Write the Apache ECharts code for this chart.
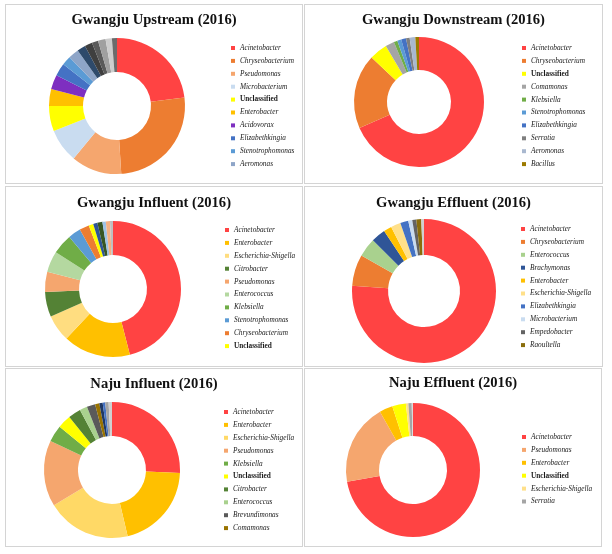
<!DOCTYPE html>
<html><head><meta charset="utf-8">
<script src="https://cdn.jsdelivr.net/npm/echarts@6/dist/echarts.min.js"></script>
<style>
body{margin:0;width:612px;height:554px;background:#fff;position:relative;overflow:hidden}
.p{position:absolute;border:1px solid #d4d4d4;box-sizing:border-box}
</style></head><body>
<div class="p" id="c1" style="left:5px;top:4px;width:298px;height:180px"></div>
<div class="p" id="c2" style="left:304px;top:4px;width:299px;height:180px"></div>
<div class="p" id="c3" style="left:5px;top:186px;width:298px;height:181px"></div>
<div class="p" id="c4" style="left:304px;top:186px;width:299px;height:181px"></div>
<div class="p" id="c5" style="left:5px;top:368px;width:298px;height:179px"></div>
<div class="p" id="c6" style="left:304px;top:368px;width:298px;height:179px"></div>
<script>
// ---- Data ----
const upstreamNames = ['Acinetobacter','Chryseobacterium','Pseudomonas','Microbacterium','Unclassified','Enterobacter','Acidovorax','Elizabethkingia','Stenotrophomonas','Aeromonas','Other 1','Other 2','Other 3','Other 4','Other 5','Other 6'];
const upstreamValues = [23, 26, 12, 8, 6, 4, 3.5, 3, 2.2, 2.5, 2.0, 1.8, 1.5, 1.8, 1.5, 1.2];
const upstreamLegend = upstreamNames.slice(0, 10);

const downstreamNames = ['Acinetobacter','Chryseobacterium','Unclassified','Comamonas','Klebsiella','Stenotrophomonas','Elizabethkingia','Serratia','Aeromonas','Bacillus'];
const downstreamValues = [68.3, 18.5, 4.5, 2.2, 0.9, 1.0, 1.2, 0.9, 1.4, 0.9];
const downstreamLegend = downstreamNames.slice(0, 10);

const gjInfluentNames = ['Acinetobacter','Enterobacter','Escherichia-Shigella','Citrobacter','Pseudomonas','Enterococcus','Klebsiella','Stenotrophomonas','Chryseobacterium','Unclassified','Other 1','Other 2','Other 3','Other 4','Other 5'];
const gjInfluentValues = [46, 16, 6.4, 5.9, 4.8, 5, 4.8, 3, 2.3, 1.1, 1.0, 1.2, 0.8, 1.0, 0.7];
const gjInfluentLegend = gjInfluentNames.slice(0, 10);

const gjEffluentNames = ['Acinetobacter','Chryseobacterium','Enterococcus','Brachymonas','Enterobacter','Escherichia-Shigella','Elizabethkingia','Microbacterium','Empedobacter','Raoultella','Other 1'];
const gjEffluentValues = [75.8, 7, 4.2, 3.2, 1.8, 2.2, 1.8, 0.9, 0.9, 1.1, 0.6];
const gjEffluentLegend = gjEffluentNames.slice(0, 10);

const njInfluentNames = ['Acinetobacter','Enterobacter','Escherichia-Shigella','Pseudomonas','Klebsiella','Unclassified','Citrobacter','Enterococcus','Brevundimonas','Comamonas','Other 1','Other 2','Other 3','Other 4'];
const njInfluentValues = [25.7, 20.6, 20, 15.7, 4, 3.2, 3, 1.8, 2, 1, 0.8, 0.6, 0.8, 0.8];
const njInfluentLegend = njInfluentNames.slice(0, 10);

const njEffluentNames = ['Acinetobacter','Pseudomonas','Enterobacter','Unclassified','Escherichia-Shigella','Serratia','Other 1'];
const njEffluentValues = [72.2, 19.6, 3.2, 3.3, 0.6, 0.8, 0.3];
const njEffluentLegend = njEffluentNames.slice(0, 6);

// ---- Styles ----
const upstreamColors = ['#FF4343','#ED7D31','#F5A66E','#C9DCF0','#FFFF00','#FFC000','#7E2FC0','#4472C4','#5B9BD5','#8EA5C8','#2E4A6B','#3F3F3F','#5A5A5A','#A0A0A0','#CDCDCD','#6B6B6B'];
const downstreamColors = ['#FF4343','#ED7D31','#FFFF00','#A5A5A5','#70AD47','#5B9BD5','#4472C4','#7F7F7F','#A9B8CF','#9C7A00'];
const gjInfluentColors = ['#FF4343','#FFC000','#FFDD80','#548235','#F5A66E','#B4D8A0','#70AD47','#5B9BD5','#ED7D31','#FFFF00','#2F5597','#375623','#9DC3E6','#F4B183','#BFBFBF'];
const gjEffluentColors = ['#FF4343','#ED7D31','#A9D18E','#2F5597','#FFC000','#FFE08A','#4472C4','#C9DCF0','#636363','#8A6D0B','#D0D0D0'];
const njInfluentColors = ['#FF4343','#FFC000','#FFD966','#F5A66E','#70AD47','#FFFF00','#548235','#A9D18E','#5A5A5A','#997300','#203864','#4472C4','#A5A5A5','#D0D0D0'];
const njEffluentColors = ['#FF4343','#F5A66E','#FFC000','#FFFF00','#FFE08A','#A5A5A5','#D9D9D9'];

const panels = [
  {id:'c1', title:'Gwangju Upstream (2016)', names:upstreamNames, values:upstreamValues, legend:upstreamLegend, colors:upstreamColors, center:[111,101], radius:[34,68], titleTop:7, legLeft:225, legTop:38.5},
  {id:'c2', title:'Gwangju Downstream (2016)', names:downstreamNames, values:downstreamValues, legend:downstreamLegend, colors:downstreamColors, center:[114,97], radius:[32,65], titleTop:7, legLeft:217, legTop:38.5},
  {id:'c3', title:'Gwangju Influent (2016)', names:gjInfluentNames, values:gjInfluentValues, legend:gjInfluentLegend, colors:gjInfluentColors, center:[107,102], radius:[34,68], titleTop:8, legLeft:219, legTop:38.5},
  {id:'c4', title:'Gwangju Effluent (2016)', names:gjEffluentNames, values:gjEffluentValues, legend:gjEffluentLegend, colors:gjEffluentColors, center:[119,104], radius:[36,72], titleTop:8, legLeft:216, legTop:37.5},
  {id:'c5', title:'Naju Influent (2016)', names:njInfluentNames, values:njInfluentValues, legend:njInfluentLegend, colors:njInfluentColors, center:[106,101], radius:[34,68], titleTop:7, legLeft:218, legTop:38.5},
  {id:'c6', title:'Naju Effluent (2016)', names:njEffluentNames, values:njEffluentValues, legend:njEffluentLegend, colors:njEffluentColors, center:[108,101], radius:[34,67], titleTop:6, legLeft:217, legTop:63.5}
];

panels.forEach(p => {
  const chart = echarts.init(document.getElementById(p.id), null, {renderer:'canvas'});
  chart.setOption({
    animation: false,
    color: p.colors,
    title: {
      text: p.title, left: 'center', top: p.titleTop, padding: 0,
      textStyle: {fontFamily:'Liberation Serif', fontWeight:'bold', fontSize:14.6, lineHeight:16, color:'#111'}
    },
    legend: {
      orient: 'vertical', left: p.legLeft, top: p.legTop, padding: 0,
      data: p.legend, icon: 'rect', itemWidth: 4, itemHeight: 4, itemGap: 3.9,
      selectedMode: false,
      formatter: n => n === 'Unclassified' ? '{u|' + n + '}' : n,
      textStyle: {
        fontFamily:'Liberation Serif', fontStyle:'italic', fontSize:7.3, lineHeight:9, color:'#1a1a1a',
        rich: {u: {fontFamily:'Liberation Serif', fontStyle:'normal', fontWeight:'bold', fontSize:7.3, lineHeight:9, color:'#1a1a1a'}}
      }
    },
    series: [{
      type: 'pie', center: p.center, radius: p.radius, startAngle: 90, clockwise: true,
      label: {show:false}, labelLine: {show:false}, silent: true,
      data: p.names.map((n, i) => ({name: n, value: p.values[i]}))
    }]
  });
});
</script>
</body></html>
